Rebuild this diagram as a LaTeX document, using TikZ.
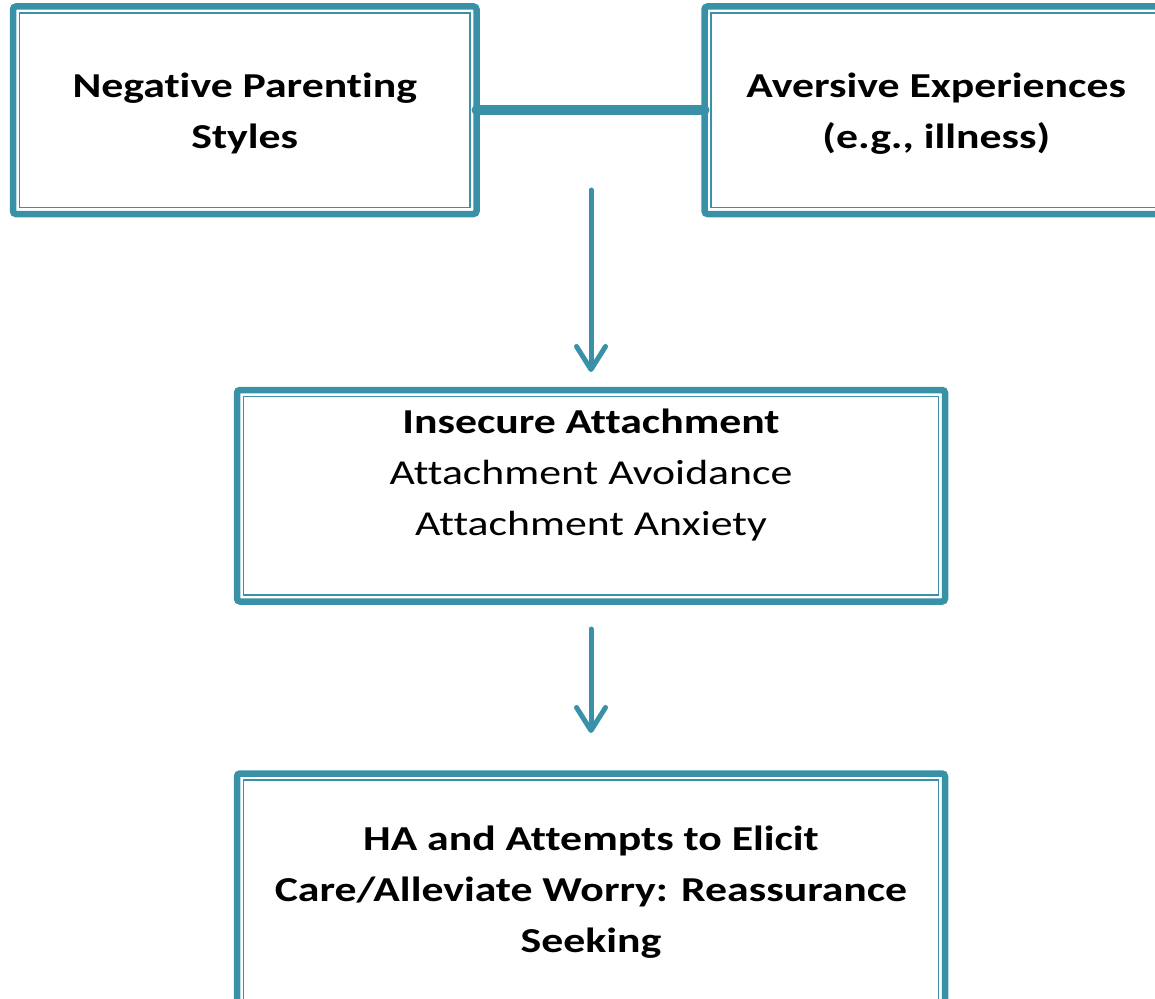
\documentclass[tikz,border=0pt]{standalone}
\usepackage{fontspec}
\setmainfont{Carlito}[FakeStretch=1.25, Ligatures={NoCommon,NoContextual}]
\usetikzlibrary{arrows.meta}
\definecolor{teal1}{RGB}{57,145,168}
\tikzset{
  boxnode/.style={draw=teal1, line width=6.5pt, rounded corners=3pt, inner sep=0pt, outer sep=0pt, fill=white},
  innerline/.style={draw=teal1, line width=1.7pt},
  txt/.style={align=center, font=\fontsize{35}{51}\selectfont, inner sep=0pt, anchor=base, text=black},
  conn/.style={draw=teal1, line width=10pt, line cap=round},
  arr/.style={draw=teal1, line width=5pt, line cap=round, -{Straight Barb[length=23pt,width=29pt,round]}}
}
\begin{document}
\begin{tikzpicture}[x=1pt,y=-1pt]
\useasboundingbox (0,0) rectangle (1155,998);
\node[boxnode, minimum width=463.5pt, minimum height=207.5pt] (b1) at (244.75,110.25) {};
\node[boxnode, minimum width=463.5pt, minimum height=207.5pt] (b2) at (936.25,110.25) {};
\node[boxnode, minimum width=708pt, minimum height=211.5pt] (b3) at (591,495.75) {};
\node[boxnode, minimum width=708pt, minimum height=260pt] (b4) at (591,903.5) {};
\foreach \b in {b1,b2,b3,b4}{
  \draw[innerline] ([shift={(6.5pt,-6.5pt)}]\b.north west) rectangle ([shift={(-6.5pt,6.5pt)}]\b.south east);
}
\node[txt] (t1) at (244.75,148) {\textbf{Negative Parenting}\\\textbf{Styles}};
\node[txt] (t2) at (936.25,148) {\textbf{Aversive Experiences}\\\textbf{(e.g., illness)}};
\node[txt] (t3) at (591,535) {\textbf{Insecure Attachment}\\Attachment Avoidance\\Attachment Anxiety};
\node[txt] (t4) at (591,952) {\textbf{HA and Attempts to Elicit}\\\textbf{Care/Alleviate Worry: Reassurance}\\\textbf{Seeking}};
\draw[conn] (b1.east) -- (b2.west);
\coordinate (a1s) at (591,190);
\draw[arr] (a1s) -- ([yshift=18pt]b3.north);
\draw[arr] ([yshift=-27.5pt]b3.south) -- ([yshift=40.5pt]b4.north);
\end{tikzpicture}
\end{document}
